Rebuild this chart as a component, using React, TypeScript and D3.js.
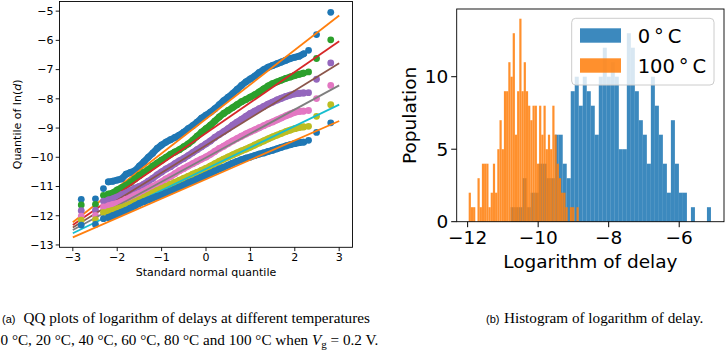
import React from 'react';
import * as d3 from 'd3';

// theoretical normal quantiles shared by every QQ series
const QUANTILES = [
  -2.81, -2.49, -2.31,
  -2.2, -2.1, -2.0, -1.9, -1.8, -1.7, -1.6, -1.5, -1.4, -1.3, -1.2, -1.1, -1.0,
  -0.9, -0.8, -0.7, -0.6, -0.5, -0.4, -0.3, -0.2, -0.1, 0.0, 0.1, 0.2, 0.3, 0.4,
  0.5, 0.6, 0.7, 0.8, 0.9, 1.0, 1.1, 1.2, 1.3, 1.4, 1.5, 1.6, 1.7, 1.8, 1.9, 2.0,
  2.1, 2.2,
  2.31, 2.49, 2.81,
];
// the three sparse points at each end sit apart, the rest form a dense band
const TAIL = 3;

// sorted ln(delay) per temperature
const QQ_0C = [
  -11.44, -11.42, -11.07,
  -10.84, -10.82, -10.78, -10.74, -10.58, -10.52, -10.46, -10.30, -10.16, -10.00, -9.86, -9.70, -9.58,
  -9.48, -9.40, -9.32, -9.24, -9.14, -9.02, -8.92, -8.80, -8.66, -8.56, -8.46, -8.34, -8.20, -8.06,
  -7.94, -7.82, -7.68, -7.54, -7.42, -7.32, -7.22, -7.10, -7.00, -6.92, -6.86, -6.80, -6.74, -6.68, -6.62, -6.58,
  -6.54, -6.46,
  -6.34, -5.80, -5.04,
];
const QQ_20C = [
  -11.63, -11.61, -11.30,
  -11.26, -11.22, -11.12, -11.04, -10.96, -10.86, -10.74, -10.62, -10.52, -10.42, -10.30, -10.20, -10.10,
  -10.00, -9.90, -9.82, -9.74, -9.64, -9.54, -9.42, -9.28, -9.14, -9.02, -8.90, -8.76, -8.62, -8.50,
  -8.40, -8.30, -8.20, -8.10, -8.02, -7.94, -7.86, -7.76, -7.66, -7.56, -7.48, -7.42, -7.36, -7.30, -7.25, -7.20,
  -7.16, -7.12,
  -7.08, -6.62, -5.98,
];
const QQ_40C = [
  -11.83, -11.81, -11.50,
  -11.46, -11.42, -11.36, -11.28, -11.22, -11.14, -11.06, -11.00, -10.92, -10.82, -10.72, -10.60, -10.50,
  -10.40, -10.32, -10.22, -10.12, -10.04, -9.94, -9.84, -9.74, -9.64, -9.54, -9.44, -9.32, -9.22, -9.12,
  -9.02, -8.90, -8.80, -8.70, -8.60, -8.50, -8.42, -8.34, -8.26, -8.18, -8.11, -8.04, -7.98, -7.92, -7.87, -7.83,
  -7.81, -7.80,
  -7.79, -7.33, -6.77,
];
const QQ_60C = [
  -12.01, -11.99, -11.70,
  -11.66, -11.62, -11.58, -11.52, -11.44, -11.38, -11.30, -11.24, -11.16, -11.08, -11.00, -10.92, -10.84,
  -10.74, -10.66, -10.56, -10.46, -10.38, -10.30, -10.22, -10.14, -10.06, -9.99, -9.90, -9.80, -9.70, -9.62,
  -9.53, -9.44, -9.36, -9.28, -9.20, -9.13, -9.06, -8.99, -8.92, -8.85, -8.79, -8.72, -8.65, -8.58, -8.52, -8.46,
  -8.43, -8.42,
  -8.40, -7.99, -7.54,
];
const QQ_80C = [
  -12.15, -12.13, -11.89,
  -11.86, -11.82, -11.77, -11.72, -11.66, -11.60, -11.53, -11.46, -11.38, -11.30, -11.22, -11.14, -11.07,
  -11.00, -10.93, -10.86, -10.79, -10.72, -10.65, -10.58, -10.52, -10.45, -10.38, -10.30, -10.22, -10.14, -10.06,
  -9.99, -9.92, -9.85, -9.78, -9.72, -9.65, -9.58, -9.51, -9.44, -9.37, -9.30, -9.24, -9.18, -9.12, -9.07, -9.02,
  -8.98, -8.96,
  -8.94, -8.60, -8.20,
];
const QQ_100C = [
  -12.32, -12.30, -12.10,
  -12.06, -12.00, -11.94, -11.88, -11.82, -11.74, -11.66, -11.58, -11.52, -11.46, -11.40, -11.34, -11.29,
  -11.22, -11.16, -11.09, -11.02, -10.95, -10.88, -10.82, -10.75, -10.68, -10.61, -10.54, -10.47, -10.40, -10.34,
  -10.27, -10.20, -10.14, -10.08, -10.03, -9.99, -9.94, -9.89, -9.85, -9.80, -9.76, -9.71, -9.66, -9.61, -9.57, -9.53,
  -9.50, -9.48,
  -9.42, -9.15, -8.82,
];
const QQ_SERIES = [QQ_0C, QQ_20C, QQ_40C, QQ_60C, QQ_80C, QQ_100C];

// fitted reference lines: value at quantile -3 and +3
const FIT_AT_LEFT = [-12.22, -12.32, -12.40, -12.49, -12.60, -12.74];
const FIT_AT_RIGHT = [-5.15, -6.03, -6.78, -7.54, -8.20, -8.76];
const FIT_SPAN = [-3, 3];

const POINT_COLORS = ['#1f77b4', '#2ca02c', '#9467bd', '#e377c2', '#bcbd22', '#1f77b4'];
const LINE_COLORS = ['#ff7f0e', '#d62728', '#8c564b', '#7f7f7f', '#17becf', '#ff7f0e'];

const QQ_X_TICKS = [-3, -2, -1, 0, 1, 2, 3];
const QQ_Y_TICKS = [-13, -12, -11, -10, -9, -8, -7, -6, -5];

// histogram: 50 bins each between min and max of the sample
const HIST_0C = [
  1, 1, 1, 3, 1, 2, 2, 4, 4, 3,
  3, 6, 6, 4, 3, 9, 10, 8, 10, 9,
  8, 6, 10, 12, 10, 11, 10, 5, 5, 13,
  12, 9, 7, 6, 4, 10, 8, 6, 4, 2,
  7, 4, 2, 2, 0, 1, 0, 0, 0, 1,
];
const HIST_0C_RANGE = [-10.78, -5.1];
const HIST_100C = [
  2, 1, 1, 0, 3, 1, 4, 4, 4, 1,
  2, 4, 2, 5, 7, 5, 9, 9, 11, 10,
  13, 6, 9, 14, 9, 11, 9, 8, 7, 8,
  8, 4, 8, 6, 8, 5, 6, 5, 8, 6,
  4, 3, 2, 2, 1, 0, 1, 1, 0, 1,
];
const HIST_100C_RANGE = [-11.97, -8.85];
const HIST_LABELS = ['0\u2009°\u2009C', '100\u2009°\u2009C'];
const HIST_COLORS = ['#1f77b4', '#ff7f0e'];
const HIST_X_TICKS = [-12, -10, -8, -6];
const HIST_Y_TICKS = [0, 5, 10];

const fmt = d3.format('d');
const SANS = '"DejaVu Sans", sans-serif';
const SERIF = '"Liberation Serif", "Times New Roman", serif';
const CAP_SANS = '"Liberation Sans", sans-serif';

function QQPanel() {
  const x = d3.scaleLinear().domain([-3.3, 3.3]).range([59.5, 352.5]);
  const y = d3.scaleLinear().domain([-13.08, -4.67]).range([247.3, 1.5]);
  const [x0, x1] = x.range();
  const [y0, y1] = y.range();
  const line = d3.line<[number, number]>().x(d => x(d[0])).y(d => y(d[1]));
  const R = 3.4;

  return (
    <g fontFamily={SANS}>
      {QQ_SERIES.map((vals, s) => {
        const band = vals.slice(TAIL, vals.length - TAIL)
          .map((v, i) => [QUANTILES[i + TAIL], v] as [number, number]);
        return (
          <g key={s}>
            {/* dense middle of the sample: markers overlap into a band */}
            <path d={line(band) || ''} stroke={POINT_COLORS[s]} strokeWidth={R * 2}
              strokeLinecap="round" strokeLinejoin="round" fill="none" />
            {vals.map((v, i) => (
              <circle key={i} cx={x(QUANTILES[i])} cy={y(v)} r={R} fill={POINT_COLORS[s]} />
            ))}
            <path
              d={line([[FIT_SPAN[0], FIT_AT_LEFT[s]], [FIT_SPAN[1], FIT_AT_RIGHT[s]]]) || ''}
              stroke={LINE_COLORS[s]} strokeWidth={1.8} fill="none"
            />
          </g>
        );
      })}
      <rect x={x0} y={y1} width={x1 - x0} height={y0 - y1} fill="none" stroke="#000" strokeWidth={0.9} />
      {QQ_X_TICKS.map(t => (
        <g key={t} transform={`translate(${x(t)},${y0})`}>
          <line y2={3.8} stroke="#000" strokeWidth={0.9} />
          <text y={6} dy="0.71em" textAnchor="middle" fontSize={11}>{fmt(t)}</text>
        </g>
      ))}
      {QQ_Y_TICKS.map(t => (
        <g key={t} transform={`translate(${x0},${y(t)})`}>
          <line x2={-3.8} stroke="#000" strokeWidth={0.9} />
          <text x={-6} dy="0.35em" textAnchor="end" fontSize={11}>{fmt(t)}</text>
        </g>
      ))}
      <text x={(x0 + x1) / 2} y={276} textAnchor="middle" fontSize={11}>Standard normal quantile</text>
      <text transform={`translate(21,${(y0 + y1) / 2}) rotate(-90)`} textAnchor="middle" fontSize={11}>
        Quantile of ln(<tspan fontStyle="italic">d</tspan>)
      </text>
    </g>
  );
}

function HistPanel() {
  const x = d3.scaleLinear().domain([-12.31, -4.73]).range([456.7, 724]);
  const y = d3.scaleLinear().domain([0, 14.67]).range([221.7, 9]);
  const [x0, x1] = x.range();
  const [y0, y1] = y.range();
  const series = [
    { counts: HIST_0C, range: HIST_0C_RANGE },
    { counts: HIST_100C, range: HIST_100C_RANGE },
  ];

  return (
    <g fontFamily={SANS}>
      {series.map((s, k) => {
        const w = (s.range[1] - s.range[0]) / s.counts.length;
        return (
          <g key={k} fill={HIST_COLORS[k]} fillOpacity={0.87}>
            {s.counts.map((c, i) => c > 0 && (
              <rect key={i}
                x={x(s.range[0] + i * w)} width={x(s.range[0] + (i + 1) * w) - x(s.range[0] + i * w)}
                y={y(c)} height={y(0) - y(c)} />
            ))}
          </g>
        );
      })}
      <rect x={x0} y={y1} width={x1 - x0} height={y0 - y1} fill="none" stroke="#000" strokeWidth={0.9} />
      {HIST_X_TICKS.map(t => (
        <g key={t} transform={`translate(${x(t)},${y0})`}>
          <line y2={5.5} stroke="#000" strokeWidth={1} />
          <text y={9} dy="0.71em" textAnchor="middle" fontSize={18.5}>{fmt(t)}</text>
        </g>
      ))}
      {HIST_Y_TICKS.map(t => (
        <g key={t} transform={`translate(${x0},${y(t)})`}>
          <line x2={-5.5} stroke="#000" strokeWidth={1} />
          <text x={-8.5} dy="0.35em" textAnchor="end" fontSize={18.5}>{fmt(t)}</text>
        </g>
      ))}
      <text x={(x0 + x1) / 2} y={268} textAnchor="middle" fontSize={18.5}>Logarithm of delay</text>
      <text transform={`translate(416,${(y0 + y1) / 2}) rotate(-90)`} textAnchor="middle" fontSize={18.5}>Population</text>
      <g>
        <rect x={571.7} y={18.3} width={142.3} height={66.7} rx={4} fill="#fff" fillOpacity={0.8} stroke="#cccccc" strokeWidth={1} />
        {HIST_LABELS.map((lab, k) => (
          <g key={lab} transform={`translate(580,${28.3 + k * 30})`}>
            <rect width={41} height={14.4} fill={HIST_COLORS[k]} fillOpacity={0.87} />
            <text x={57.7} y={7.4} dy="0.36em" fontSize={19.5}>{lab}</text>
          </g>
        ))}
      </g>
    </g>
  );
}

function Captions() {
  return (
    <g fontFamily={SERIF} fontSize={15.2} fill="#000">
      <text x={2} y={323}>
        <tspan fontFamily={CAP_SANS} fontSize={11}>(a)</tspan>
        <tspan x={23.5}>QQ plots of logarithm of delays at different temperatures</tspan>
      </text>
      <text x={0.5} y={345}>
        0 °C, 20 °C, 40 °C, 60 °C, 80 °C and 100 °C when <tspan fontStyle="italic">V</tspan>
        <tspan fontSize={11} dy={3}>g</tspan>
        <tspan dy={-3}> = 0.2 V.</tspan>
      </text>
      <text x={486} y={323}>
        <tspan fontFamily={CAP_SANS} fontSize={11}>(b)</tspan>
        <tspan x={504}>Histogram of logarithm of delay.</tspan>
      </text>
    </g>
  );
}

export default function App() {
  return (
    <svg width={725} height={354} viewBox="0 0 725 354"
      style={{ position: 'absolute', left: 0, top: 0, background: '#fff' }}>
      <QQPanel />
      <HistPanel />
      <Captions />
    </svg>
  );
}
